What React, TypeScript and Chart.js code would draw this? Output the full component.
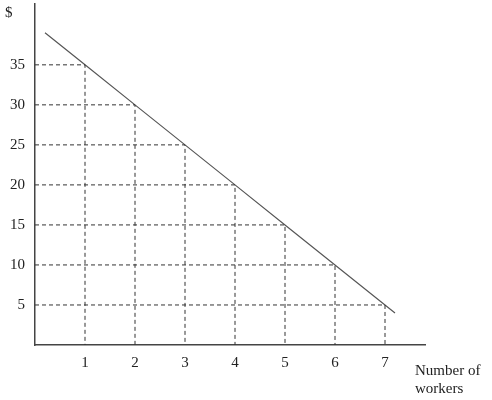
import React, { useEffect, useRef } from 'react';
import { Chart, registerables } from 'chart.js';

Chart.register(...registerables);

// workers hired and the value
const workers = [1, 2, 3, 4, 5, 6, 7];
const values = [35, 30, 25, 20, 15, 10, 5];
// where the drawn line starts and ends
const lineStart = { x: 0.2, y: 39 };
const lineEnd = { x: 7.2, y: 4 };
const yTicks = [5, 10, 15, 20, 25, 30, 35];
const xTicks = [1, 2, 3, 4, 5, 6, 7];

const FONT = "'Liberation Serif', 'Times New Roman', serif";

const labelsPlugin = {
    id: 'extraLabels',
    afterDraw(chart: Chart) {
        const ctx = chart.ctx;
        ctx.save();
        ctx.fillStyle = '#222';
        ctx.font = `15px ${FONT}`;
        ctx.textBaseline = 'alphabetic';
        ctx.textAlign = 'left';
        ctx.fillText('$', 5, 17);
        ctx.fillText('Number of', 415, 375);
        ctx.fillText('workers', 415, 393);
        ctx.restore();
    },
};

const App: React.FC = () => {
    const chartRef = useRef<HTMLCanvasElement | null>(null);

    useEffect(() => {
        document.body.style.margin = '0';
        if (!chartRef.current) return;
        const ctx = chartRef.current.getContext('2d');
        if (!ctx) return;

        const guides = workers.map((w, i) => ({
            data: [
                { x: 0, y: values[i] },
                { x: w, y: values[i] },
                { x: w, y: 0 },
            ],
            showLine: true,
            borderColor: '#333',
            borderWidth: 1,
            borderDash: [4, 3],
            pointRadius: 0,
            fill: false,
        }));

        const myChart = new Chart(ctx, {
            type: 'scatter',
            data: {
                datasets: [
                    ...guides,
                    {
                        data: [lineStart, ...workers.map((w, i) => ({ x: w, y: values[i] })), lineEnd],
                        showLine: true,
                        borderColor: '#555',
                        borderWidth: 1.2,
                        pointRadius: 0,
                        fill: false,
                    },
                ],
            },
            options: {
                animation: false,
                responsive: false,
                layout: { padding: { top: 4, right: 67, left: 0, bottom: 0 } },
                plugins: {
                    legend: { display: false },
                    tooltip: { enabled: false },
                },
                scales: {
                    x: {
                        type: 'linear',
                        min: 0,
                        max: 7.8,
                        grid: { display: false, drawTicks: false },
                        border: { color: '#444', width: 1.5 },
                        afterBuildTicks: (scale: any) => {
                            scale.ticks = xTicks.map((v) => ({ value: v }));
                        },
                        afterFit: (scale: any) => {
                            scale.height = 55;
                            scale.paddingLeft = 0;
                            scale.paddingRight = 0;
                        },
                        ticks: {
                            padding: 9,
                            color: '#222',
                            font: { family: FONT, size: 15 },
                            autoSkip: false,
                            maxRotation: 0,
                        },
                    },
                    y: {
                        type: 'linear',
                        min: 0,
                        max: 42.6,
                        grid: { display: false, drawTicks: false },
                        border: { color: '#444', width: 1.5 },
                        afterBuildTicks: (scale: any) => {
                            scale.ticks = yTicks.map((v) => ({ value: v }));
                        },
                        afterFit: (scale: any) => {
                            scale.width = 35;
                            scale.paddingTop = 0;
                            scale.paddingBottom = 0;
                        },
                        ticks: {
                            padding: 10,
                            color: '#222',
                            font: { family: FONT, size: 15 },
                            autoSkip: false,
                        },
                    },
                },
            },
            plugins: [labelsPlugin],
        });

        return () => {
            myChart.destroy();
        };
    }, []);

    return (
        <div style={{ position: 'absolute', left: 0, top: 0, width: 492, height: 400 }}>
            <canvas ref={chartRef} width={492} height={400} />
        </div>
    );
};

export default App;
